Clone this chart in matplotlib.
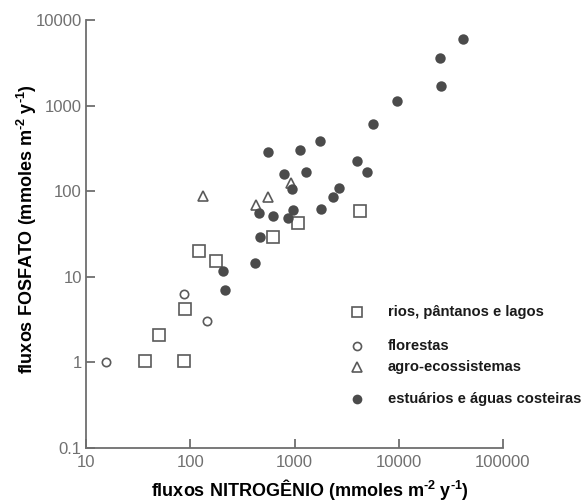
import matplotlib
matplotlib.use("Agg")
import matplotlib.pyplot as plt

plt.rcParams['font.family'] = ['Liberation Sans', 'DejaVu Sans']
plt.rcParams['mathtext.fontset'] = 'custom'
plt.rcParams['mathtext.rm'] = 'Liberation Sans'
plt.rcParams['mathtext.bf'] = 'Liberation Sans:bold'

# ---- data ----
rios_N = [37, 88, 50, 89, 121, 176, 617, 1090, 4270]
rios_P = [1.04, 1.05, 2.1, 4.2, 20, 15.3, 29.4, 42, 59]

flor_N = [15.5, 88, 144]
flor_P = [1.0, 6.25, 3.07]

agro_N = [132, 428, 563, 927]
agro_P = [88, 69, 86, 126]

estu_N = [555, 1140, 1774, 4020, 4980, 800, 1300, 948, 2700, 2360, 1800, 963,
          868, 617, 460, 464, 419, 205, 217, 41200, 25100, 25500, 9600, 5710]
estu_P = [289, 303, 389, 225, 166, 157, 169, 106, 108, 86, 62, 60,
          48, 51, 56, 29.4, 14.4, 11.8, 7.1, 6000, 3630, 1695, 1122, 615]

x_ticks = [10, 100, 1000, 10000, 100000]
x_ticklabels = ["10", "100", "1000", "10000", "100000"]
y_ticks = [0.1, 1, 10, 100, 1000, 10000]
y_ticklabels = ["0.1", "1", "10", "100", "1000", "10000"]

legend_labels = ["rios, pântanos e lagos", "florestas", "agro-ecossistemas",
                 "estuários e águas costeiras"]

xlabel = "fluxos NITROGÊNIO (mmoles m$^{\\mathregular{\u20102}}$ y$^{\\mathregular{\u20101}}$)"
ylabel = "fluxos FOSFATO (mmoles m$^{\\mathregular{\u20102}}$ y$^{\\mathregular{\u20101}}$)"

W, H = 587, 500
fig = plt.figure(figsize=(W / 100, H / 100), dpi=100)
ax = fig.add_axes([86 / W, 1 - 448 / H, (503 - 86) / W, (448 - 20) / H])

edge = "#5a5a5a"
fill = "#4b4b4b"
ax.plot(rios_N, rios_P, ls="none", marker="s", ms=8, mfc="white", mec=edge, mew=1.2)
ax.plot(flor_N, flor_P, ls="none", marker="o", ms=6, mfc="white", mec=edge, mew=1.2)
ax.plot(agro_N, agro_P, ls="none", marker="^", ms=7.5, mfc="white", mec=edge, mew=1.2)
ax.plot(estu_N, estu_P, ls="none", marker="o", ms=7.5, mfc=fill, mec=fill, mew=0)

ax.set_xscale("log")
ax.set_yscale("log")
ax.set_xlim(10, 100000)
ax.set_ylim(0.1, 10000)
ax.set_xticks(x_ticks)
ax.set_xticklabels(x_ticklabels)
ax.set_yticks(y_ticks)
ax.set_yticklabels(y_ticklabels)
ax.minorticks_off()

spine_c = "#6e6e6e"
for s in ["top", "right"]:
    ax.spines[s].set_visible(False)
for s in ["left", "bottom"]:
    ax.spines[s].set_color(spine_c)
    ax.spines[s].set_linewidth(1.3)
ax.tick_params(axis="both", direction="in", length=6.5, width=1.3, color=spine_c,
               labelcolor="#707070", labelsize=12)
ax.tick_params(axis="x", pad=5)
ax.tick_params(axis="y", pad=3)
ax.patch.set_alpha(0)

fig.text(310 / W, 1 - 489 / H, xlabel, ha="center", va="center",
         fontsize=13, fontweight="bold")
fig.text(27 / W, 1 - 229 / H, ylabel, ha="center", va="center", rotation=90,
         fontsize=13, fontweight="bold")

# legend (manual layout to match reference spacing)
leg_y = [312, 346, 367, 399]
leg_styles = [dict(marker="s", ms=7.5, mfc="white", mec=edge, mew=1.2),
              dict(marker="o", ms=5.8, mfc="white", mec=edge, mew=1.2),
              dict(marker="^", ms=7, mfc="white", mec=edge, mew=1.2),
              dict(marker="o", ms=7, mfc=fill, mec=fill, mew=0)]
for lab, yy, st in zip(legend_labels, leg_y, leg_styles):
    fig.lines.append(plt.Line2D([357 / W], [1 - yy / H], transform=fig.transFigure,
                                ls="none", **st))
    fig.text(388 / W, 1 - yy / H, lab, ha="left", va="center", fontsize=10.6,
             fontweight="bold", color="#1a1a1a")

fig.savefig("out.png", dpi=100)
